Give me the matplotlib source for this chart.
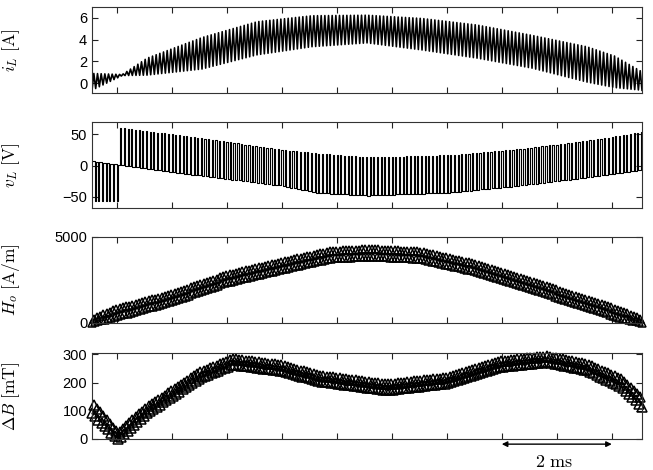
import numpy as np
import matplotlib.pyplot as plt

plt.rcParams['font.family'] = ['Liberation Sans', 'DejaVu Sans']
plt.rcParams['mathtext.fontset'] = 'cm'

# time axis [ms]
t_end = 10.0
n_cycles = 150
n_marks = 170
x_ticks = np.arange(0.45, 10.0, 1.0)
scale_bar = (7.45, 9.45)

# inductor current, ripple envelope [A]
t_i = [0, 0.55, 1.0, 2.0, 3.0, 4.0, 5.0, 6.0, 7.0, 8.0, 9.0, 9.5, 10.0]
i_hi = [0.9, 0.8, 2.3, 4.2, 5.65, 6.2, 6.25, 5.95, 5.35, 4.4, 3.35, 2.5, 1.05]
i_lo = [-0.65, 0.7, 0.74, 1.3, 2.6, 3.35, 3.7, 3.05, 2.3, 1.38, 0.1, -0.4, -0.65]

# inductor voltage: continuous level, pulse level [V], pulse duty
t_v = [0, 0.44, 0.46, 1.45, 2.45, 3.45, 4.15, 5.05, 6.57, 7.8, 9.0, 10.0]
v_base = [8, 2, 2, -10, -21, -32, -44, -48, -43, -32, -19, -7]
v_pulse = [-56, -57, 61, 50, 38, 25, 19, 13, 17, 27, 40, 54]
t_duty = [0, 0.45, 1.45, 2.45, 2.9, 3.45, 4.5, 5.5, 6.5, 7.5, 8.1, 8.8, 10]
duty = [0.3, 0.3, 0.25, 0.4, 0.5, 0.35, 0.25, 0.25, 0.3, 0.4, 0.5, 0.35, 0.3]

# field strength [A/m]
t_h = [0, 0.45, 1.45, 2.45, 3.45, 4.33, 5.05, 5.96, 6.87, 7.78, 8.69, 9.6, 10.0]
h_mid = [0, 600, 1465, 2570, 3330, 3960, 4080, 3940, 3290, 2425, 1465, 515, 0]
h_rip = 220

# flux density swing [mT]
t_b = [0, 0.47, 0.57, 1.0, 1.45, 1.96, 2.57, 3.45, 4.15, 5.36, 6.45, 7.45, 8.27, 9.0, 9.6, 10.0]
b_mid = [110, 5, 25, 102, 160, 226, 274, 251, 214, 183, 207, 266, 283, 254, 201, 130]
b_rip = [18, 15, 12, 11, 10, 10, 10, 10, 10, 10, 10, 10, 10, 11, 13, 15]


def zigzag(t, hi, lo, n):
    # alternate between the two envelopes at every half switching period
    tk = np.linspace(0, t_end, 2 * n + 1)
    up = np.interp(tk, t, hi)
    dn = np.interp(tk, t, lo)
    return tk, np.where(np.arange(tk.size) % 2 == 0, dn, up)


def pwm(t, base, pulse, td, d):
    period = t_end / n_cycles
    xs, ys = [], []
    for k in range(n_cycles):
        t0 = k * period
        tm = t0 + (1 - np.interp(t0, td, d)) * period
        b = np.interp(t0 + period / 2, t, base)
        p = np.interp(t0 + period / 2, t, pulse)
        xs += [t0, tm, tm, t0 + period]
        ys += [b, b, p, p]
    return np.array(xs), np.array(ys)


fig = plt.figure(figsize=(6.53, 4.70), dpi=100)
left, width, height = 0.1409, 0.8423, 0.183
bottoms = [0.8021, 0.5574, 0.3128, 0.066]
axes = [fig.add_axes([left, b, width, height]) for b in bottoms]

ti, iv = zigzag(t_i, i_hi, i_lo, n_cycles)
axes[0].plot(ti, iv, color='k', lw=1.2)
axes[0].set_ylim(-0.9, 7.0)
axes[0].set_yticks([0, 2, 4, 6])
axes[0].set_ylabel(r'$i_L\ \mathrm{[A]}$', fontsize=12.5)

tv, vv = pwm(t_v, v_base, v_pulse, t_duty, duty)
axes[1].plot(tv, vv, color='k', lw=0.8)
axes[1].set_ylim(-68, 70)
axes[1].set_yticks([-50, 0, 50])
axes[1].set_ylabel(r'$v_L\ \mathrm{[V]}$', fontsize=12.5)

h_hi = [h + h_rip for h in h_mid]
h_lo = [max(h - h_rip, 0) for h in h_mid]
th, hv = zigzag(t_h, h_hi, h_lo, n_marks)
axes[2].plot(th, hv, ls='none', marker='^', ms=5.5, mfc='none', mec='k', mew=1.1,
             clip_on=False)
axes[2].set_ylim(0, 5000)
axes[2].set_yticks([0, 5000])
axes[2].set_ylabel(r'$H_o\ \mathrm{[A/m]}$', fontsize=12.5)

b_hi = [b + r for b, r in zip(b_mid, b_rip)]
b_lo = [max(b - r, 0) for b, r in zip(b_mid, b_rip)]
tb, bv = zigzag(t_b, b_hi, b_lo, n_marks)
axes[3].plot(tb, bv, ls='none', marker='^', ms=6.5, mfc='none', mec='k', mew=1.1,
             clip_on=False)
axes[3].set_ylim(0, 305)
axes[3].set_yticks([0, 100, 200, 300])
axes[3].set_ylabel(r'$\Delta B\ \mathrm{[mT]}$', fontsize=12.5)

for ax in axes:
    ax.set_xlim(0, t_end)
    ax.set_xticks(x_ticks)
    ax.set_xticklabels([])
    ax.tick_params(direction='in', top=True, right=True, length=4, width=0.8,
                   labelsize=10.5, colors='#222222', labelcolor='k')
    ax.yaxis.set_label_coords(-0.127, 0.5)
    for s in ax.spines.values():
        s.set_linewidth(0.8)
        s.set_color('#333333')

axes[3].annotate('', xy=(scale_bar[0], -0.06), xytext=(scale_bar[1], -0.06),
                 xycoords=('data', 'axes fraction'),
                 arrowprops=dict(arrowstyle='<|-|>', color='k', lw=1.0,
                                 mutation_scale=8, shrinkA=0, shrinkB=0))
axes[3].text(np.mean(scale_bar) - 0.05, -0.27, r'$2\ \mathrm{ms}$', fontsize=13,
             transform=axes[3].get_xaxis_transform(), ha='center', va='center')

fig.savefig('out.png', dpi=100)
